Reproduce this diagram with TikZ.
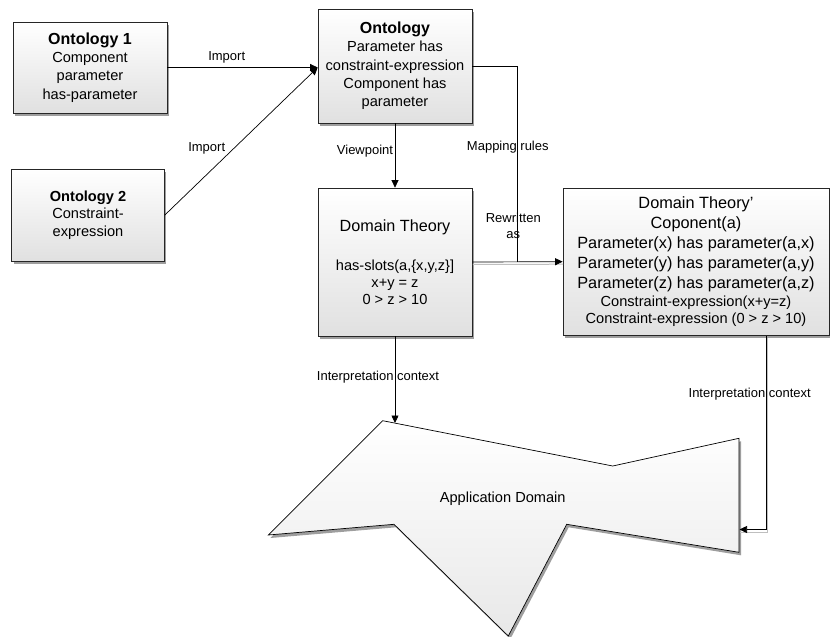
\documentclass[tikz,border=0pt]{standalone}
\usepackage{fontspec}
\setmainfont{Liberation Sans}
\usetikzlibrary{arrows.meta,shadows}

\begin{document}
\begin{tikzpicture}[x=1pt,y=-1pt,
  boxshadow/.style={drop shadow={shadow xshift=2pt,shadow yshift=-3pt,fill=black!38,opacity=1}},
  box/.style={draw=black!85,line width=0.7pt,top color=white,bottom color=black!12,
    align=center,inner sep=0pt,boxshadow},
  txt/.style={font=\fontsize{14.6}{18.3}\selectfont},
  lbl/.style={font=\fontsize{13}{15.5}\selectfont,inner sep=0pt,align=center},
  conn/.style={draw=black,line width=0.7pt,-{Triangle[length=7.5pt,width=7pt]}},
  lineshadow/.style={preaction={-,draw=black!25,line width=1pt,transform canvas={xshift=0.5pt,yshift=-2.5pt}}}
]
\useasboundingbox (0,0) rectangle (830,637);

% source ontologies
\node[box,txt,minimum width=154pt,minimum height=91pt] (o1) at (90,67.5)
  {{\fontsize{16}{18}\selectfont\bfseries Ontology 1}\\Component\\parameter\\has-parameter};
\node[box,txt,minimum width=152.6pt,minimum height=91.7pt] (o2) at (88,215.2)
  {{\bfseries Ontology 2}\\[-1pt]Constraint-\\[-1pt]expression};

% merged ontology
\node[box,txt,minimum width=154pt,minimum height=114pt] (onto) at (395,66)
  {{\fontsize{16}{18}\selectfont\bfseries Ontology}\\Parameter has\\constraint-expression\\Component has\\parameter};

% domain theory and its rewritten form
\node[box,font=\fontsize{14.6}{17}\selectfont,minimum width=154pt,minimum height=148pt] (dt) at (395,262)
  {{\fontsize{16.2}{17}\selectfont Domain Theory}\\[22pt]has-slots(a,\{x,y,z\}]\\x+y = z\\0 > z > 10};
\node[box,font=\fontsize{16.3}{20}\selectfont,minimum width=266pt,minimum height=147.5pt] (dtp) at (696,261.7)
  {Domain Theory'\\Coponent(a)\\Parameter(x) has parameter(a,x)\\Parameter(y) has parameter(a,y)\\Parameter(z) has parameter(a,z)\\[-2pt]
   {\fontsize{14.6}{17}\selectfont Constraint-expression(x+y=z)}\\[-3.5pt]
   {\fontsize{14.6}{17}\selectfont Constraint-expression (0 > z > 10)}};

% application domain outline
\coordinate (a1) at (382.7,420.7);
\coordinate (a2) at (612.7,466);
\coordinate (a3) at (739,438.3);
\coordinate (a4) at (739,552.3);
\coordinate (a5) at (566.7,524.3);
\coordinate (a6) at (508.3,636);
\coordinate (a7) at (394,524.3);
\coordinate (a8) at (268.3,535);
\path[draw=black,line width=0.7pt,line join=miter,top color=white,bottom color=black!9,boxshadow]
  (a1) -- (a2) -- (a3) -- (a4) -- (a5) -- (a6) -- (a7) -- (a8) -- cycle;
\node[txt] (app) at (502.7,499) {Application Domain};
\coordinate (adTop) at (395,423);
\coordinate (adRight) at (739.5,529.5);
\coordinate (bend) at (766.7,529.5);
\coordinate (join) at (517.3,262);

% connectors
\draw[conn] (o1.east) -- (o1.east -| onto.west);
\draw[conn] (o2.east) -- (o1.east -| onto.west);
\draw[conn] (onto.south) -- (dt.north);
\draw[draw=black,line width=0.7pt] (onto.east) -| (join);
\draw[conn,lineshadow] (dt.east) -- (dtp.west);
\draw[conn] (dt.south) -- (adTop);
\draw[conn,lineshadow] (dtp.south -| bend) -- (bend) -- (adRight);

% connector labels
\node[lbl] (limp1) at (226.7,57) {Import};
\node[lbl] (limp2) at (206.7,148.3) {Import};
\node[lbl] (lview) at (365,150.7) {Viewpoint};
\node[lbl] (lmap) at (507.8,146.7) {Mapping rules};
\node[lbl] (lrew) at (513.3,226) {Rewritten\\as};
\node[lbl] (lint1) at (378,377) {Interpretation context};
\node[lbl] (lint2) at (749.7,394) {Interpretation context};
\end{tikzpicture}
\end{document}
